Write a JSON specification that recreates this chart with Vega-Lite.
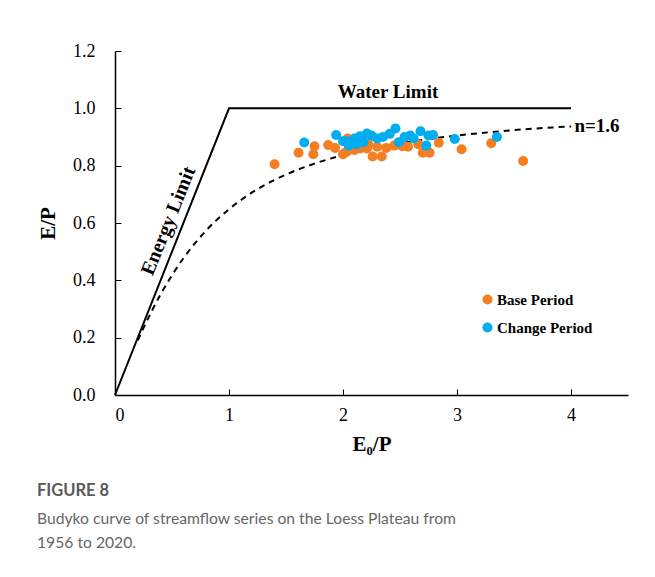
{
  "$schema": "https://vega.github.io/schema/vega-lite/v6.json",
  "width": 513,
  "height": 344,
  "autosize": {"type": "none"},
  "padding": {"left": 115, "top": 51, "right": 27, "bottom": 182},
  "background": "white",
  "config": {"view": {"stroke": null}},
  "title": {
    "text": "FIGURE 8",
    "subtitle": ["Budyko curve of streamflow series on the Loess Plateau from", "1956 to 2020."],
    "orient": "bottom",
    "anchor": "start",
    "frame": "group",
    "dx": -78,
    "offset": 29,
    "font": "Lato",
    "fontSize": 16.5,
    "fontWeight": "bold",
    "color": "#595959",
    "subtitleFont": "Lato",
    "subtitleFontSize": 15.7,
    "subtitleColor": "#666666",
    "subtitlePadding": 12,
    "subtitleLineHeight": 24
  },
  "datasets": {
    "limits": [
      {"x": 0, "y": 0},
      {"x": 1, "y": 1},
      {"x": 4, "y": 1}
    ],
    "curve": [
      {"x": 0.2, "y": 0.191},
      {"x": 0.25, "y": 0.234},
      {"x": 0.4, "y": 0.351},
      {"x": 0.6, "y": 0.477},
      {"x": 0.8, "y": 0.574},
      {"x": 1.0, "y": 0.648},
      {"x": 1.25, "y": 0.718},
      {"x": 1.5, "y": 0.769},
      {"x": 1.75, "y": 0.807},
      {"x": 2.0, "y": 0.837},
      {"x": 2.5, "y": 0.878},
      {"x": 3.0, "y": 0.905},
      {"x": 3.5, "y": 0.924},
      {"x": 4.0, "y": 0.937}
    ],
    "points": [
      {"x": 1.40, "y": 0.805, "period": "Base Period"},
      {"x": 1.61, "y": 0.845, "period": "Base Period"},
      {"x": 1.74, "y": 0.840, "period": "Base Period"},
      {"x": 1.75, "y": 0.868, "period": "Base Period"},
      {"x": 1.87, "y": 0.872, "period": "Base Period"},
      {"x": 1.93, "y": 0.862, "period": "Base Period"},
      {"x": 2.00, "y": 0.840, "period": "Base Period"},
      {"x": 2.03, "y": 0.848, "period": "Base Period"},
      {"x": 2.04, "y": 0.895, "period": "Base Period"},
      {"x": 2.10, "y": 0.855, "period": "Base Period"},
      {"x": 2.15, "y": 0.860, "period": "Base Period"},
      {"x": 2.21, "y": 0.860, "period": "Base Period"},
      {"x": 2.22, "y": 0.876, "period": "Base Period"},
      {"x": 2.26, "y": 0.832, "period": "Base Period"},
      {"x": 2.30, "y": 0.866, "period": "Base Period"},
      {"x": 2.34, "y": 0.832, "period": "Base Period"},
      {"x": 2.38, "y": 0.862, "period": "Base Period"},
      {"x": 2.45, "y": 0.870, "period": "Base Period"},
      {"x": 2.50, "y": 0.876, "period": "Base Period"},
      {"x": 2.52, "y": 0.868, "period": "Base Period"},
      {"x": 2.57, "y": 0.866, "period": "Base Period"},
      {"x": 2.66, "y": 0.875, "period": "Base Period"},
      {"x": 2.70, "y": 0.845, "period": "Base Period"},
      {"x": 2.76, "y": 0.845, "period": "Base Period"},
      {"x": 2.84, "y": 0.880, "period": "Base Period"},
      {"x": 3.04, "y": 0.857, "period": "Base Period"},
      {"x": 3.30, "y": 0.878, "period": "Base Period"},
      {"x": 3.58, "y": 0.816, "period": "Base Period"},
      {"x": 1.66, "y": 0.881, "period": "Change Period"},
      {"x": 1.94, "y": 0.907, "period": "Change Period"},
      {"x": 2.00, "y": 0.885, "period": "Change Period"},
      {"x": 2.03, "y": 0.885, "period": "Change Period"},
      {"x": 2.05, "y": 0.870, "period": "Change Period"},
      {"x": 2.10, "y": 0.895, "period": "Change Period"},
      {"x": 2.12, "y": 0.875, "period": "Change Period"},
      {"x": 2.15, "y": 0.903, "period": "Change Period"},
      {"x": 2.18, "y": 0.882, "period": "Change Period"},
      {"x": 2.21, "y": 0.912, "period": "Change Period"},
      {"x": 2.25, "y": 0.905, "period": "Change Period"},
      {"x": 2.30, "y": 0.895, "period": "Change Period"},
      {"x": 2.35, "y": 0.900, "period": "Change Period"},
      {"x": 2.41, "y": 0.911, "period": "Change Period"},
      {"x": 2.46, "y": 0.930, "period": "Change Period"},
      {"x": 2.49, "y": 0.882, "period": "Change Period"},
      {"x": 2.54, "y": 0.900, "period": "Change Period"},
      {"x": 2.59, "y": 0.905, "period": "Change Period"},
      {"x": 2.62, "y": 0.895, "period": "Change Period"},
      {"x": 2.68, "y": 0.920, "period": "Change Period"},
      {"x": 2.73, "y": 0.870, "period": "Change Period"},
      {"x": 2.75, "y": 0.905, "period": "Change Period"},
      {"x": 2.79, "y": 0.907, "period": "Change Period"},
      {"x": 2.98, "y": 0.893, "period": "Change Period"},
      {"x": 3.35, "y": 0.900, "period": "Change Period"}
    ]
  },
  "layer": [
    {
      "data": {"name": "limits"},
      "mark": {"type": "line", "color": "black", "strokeWidth": 2},
      "encoding": {
        "x": {
          "field": "x", "type": "quantitative",
          "scale": {"domain": [0, 4.5], "nice": false},
          "axis": {
            "values": [0, 1, 2, 3, 4],
            "format": "d",
            "title": "E₀/P",
            "titleFont": "Liberation Serif",
            "titleFontSize": 21,
            "titleFontWeight": "bold",
            "titleColor": "black",
            "titlePadding": 9,
            "labelFont": "Liberation Serif",
            "labelFontSize": 18,
            "labelColor": "black",
            "labelPadding": 17,
            "tickColor": "black",
            "tickSize": -6,
            "domainColor": "black",
            "domainWidth": 1.5,
            "grid": false
          }
        },
        "y": {
          "field": "y", "type": "quantitative",
          "scale": {"domain": [0, 1.2], "nice": false},
          "axis": {
            "values": [0, 0.2, 0.4, 0.6, 0.8, 1.0, 1.2],
            "format": ".1f",
            "title": "E/P",
            "titleFont": "Liberation Serif",
            "titleFontSize": 21,
            "titleFontWeight": "bold",
            "titleColor": "black",
            "titlePadding": 14,
            "labelFont": "Liberation Serif",
            "labelFontSize": 18,
            "labelColor": "black",
            "labelPadding": 26,
            "tickColor": "black",
            "tickSize": -6,
            "domainColor": "black",
            "domainWidth": 1.5,
            "grid": false
          }
        }
      }
    },
    {
      "data": {"name": "curve"},
      "mark": {"type": "line", "color": "black", "strokeWidth": 2, "strokeDash": [6, 5], "interpolate": "monotone"},
      "encoding": {
        "x": {"field": "x", "type": "quantitative"},
        "y": {"field": "y", "type": "quantitative"}
      }
    },
    {
      "data": {"name": "points"},
      "mark": {"type": "circle", "size": 100, "opacity": 1},
      "encoding": {
        "x": {"field": "x", "type": "quantitative"},
        "y": {"field": "y", "type": "quantitative"},
        "color": {
          "field": "period", "type": "nominal",
          "scale": {"domain": ["Base Period", "Change Period"], "range": ["#F57E22", "#00AEEF"]},
          "legend": {
            "title": null,
            "orient": "none",
            "legendX": 365,
            "legendY": 241,
            "symbolType": "circle",
            "symbolSize": 100,
            "symbolOpacity": 1,
            "labelFont": "Liberation Serif",
            "labelFontSize": 15,
            "labelFontWeight": "bold",
            "labelColor": "black",
            "labelOffset": 2,
            "rowPadding": 12
          }
        }
      }
    },
    {
      "data": {"values": [{"x": 0.47, "y": 0.607, "label": "Energy Limit"}]},
      "mark": {"type": "text", "font": "Liberation Serif", "fontSize": 20, "fontWeight": "bold", "angle": -68, "align": "center", "baseline": "middle", "color": "black"},
      "encoding": {
        "x": {"field": "x", "type": "quantitative"},
        "y": {"field": "y", "type": "quantitative"},
        "text": {"field": "label"}
      }
    },
    {
      "data": {"values": [{"x": 2.395, "y": 1.057, "label": "Water Limit"}]},
      "mark": {"type": "text", "font": "Liberation Serif", "fontSize": 19, "fontWeight": "bold", "align": "center", "baseline": "middle", "color": "black"},
      "encoding": {
        "x": {"field": "x", "type": "quantitative"},
        "y": {"field": "y", "type": "quantitative"},
        "text": {"field": "label"}
      }
    },
    {
      "data": {"values": [{"x": 4.03, "y": 0.94, "label": "n=1.6"}]},
      "mark": {"type": "text", "font": "Liberation Serif", "fontSize": 19, "fontWeight": "bold", "align": "left", "baseline": "middle", "color": "black"},
      "encoding": {
        "x": {"field": "x", "type": "quantitative"},
        "y": {"field": "y", "type": "quantitative"},
        "text": {"field": "label"}
      }
    }
  ]
}
